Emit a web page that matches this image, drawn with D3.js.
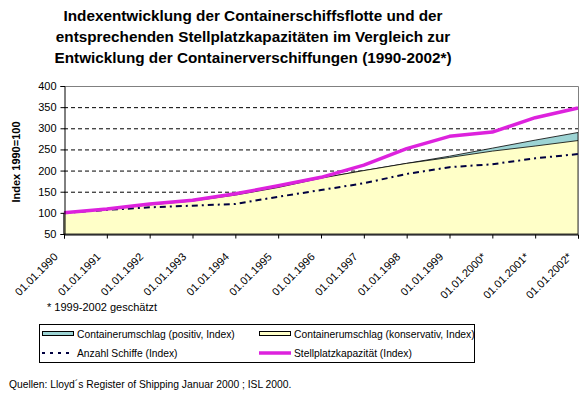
<!DOCTYPE html>
<html>
<head>
<meta charset="utf-8">
<script src="https://cdn.jsdelivr.net/npm/d3@7"></script>
<style>
  body { margin: 0; background: #fff; }
  svg { font-family: "Liberation Sans", Arial, sans-serif; }
</style>
</head>
<body>
<svg width="582" height="395"></svg>
<script>
// tick labels / categories
const dates = ["01.01.1990", "01.01.1991", "01.01.1992", "01.01.1993", "01.01.1994",
  "01.01.1995", "01.01.1996", "01.01.1997", "01.01.1998", "01.01.1999",
  "01.01.2000*", "01.01.2001*", "01.01.2002*"];

// series (index 1990 = 100)
const umschlagPositiv = [100, 108, 119, 128, 142, 160, 182, 200, 217, 234, 253, 272, 290];
const umschlagKonservativ = [100, 108, 119, 128, 142, 160, 182, 200, 217, 231, 246, 258, 271];
const anzahlSchiffe = [100, 107, 113, 117, 121, 138, 154, 170, 192, 208, 215, 229, 239];
const stellplatz = [100, 109, 121, 130, 145, 164, 184, 213, 252, 281, 291, 325, 348];

const yTicks = [50, 100, 150, 200, 250, 300, 350, 400];

const titleLines = [
  "Indexentwicklung der Containerschiffsflotte und der",
  "entsprechenden Stellplatzkapazitäten im Vergleich zur",
  "Entwicklung der Containerverschiffungen (1990-2002*)"
];

const svg = d3.select("svg"),
  plotLeft = 64, plotRight = 578, plotTop = 86, plotBottom = 234;

const x = d3.scalePoint().domain(dates).range([plotLeft, plotRight]);
const y = d3.scaleLinear().domain([50, 400]).range([plotBottom, plotTop]);

// title
svg.append("g")
  .selectAll("text")
  .data(titleLines)
  .enter()
  .append("text")
  .attr("x", 253)
  .attr("y", (d, i) => 21 + i * 21)
  .attr("text-anchor", "middle")
  .style("font-size", "15.3px")
  .style("font-weight", "bold")
  .text(d => d);

// grid
svg.append("g")
  .selectAll("line")
  .data(yTicks.filter(d => d > 50 && d < 400))
  .enter()
  .append("line")
  .attr("x1", plotLeft).attr("x2", plotRight)
  .attr("y1", d => y(d) + 0.5).attr("y2", d => y(d) + 0.5)
  .attr("stroke", "#000")
  .attr("stroke-dasharray", "4,3");

// areas: positive behind, conservative on top
const area = vals => d3.area()
  .x((d, i) => x(dates[i]))
  .y0(y(50))
  .y1(d => y(d))(vals);

svg.append("path")
  .attr("d", area(umschlagPositiv))
  .attr("fill", "#9dd4d4")
  .attr("stroke", "#000")
  .attr("stroke-width", 0.8);

svg.append("path")
  .attr("d", area(umschlagKonservativ))
  .attr("fill", "#ffffc8")
  .attr("stroke", "#000")
  .attr("stroke-width", 0.8);

const line = d3.line().x((d, i) => x(dates[i])).y(d => y(d));

svg.append("path")
  .attr("d", line(anzahlSchiffe))
  .attr("fill", "none")
  .attr("stroke", "#000040")
  .attr("stroke-width", 2)
  .attr("stroke-dasharray", "6,4,2,4");

svg.append("path")
  .attr("d", line(stellplatz))
  .attr("fill", "none")
  .attr("stroke", "#dd22dd")
  .attr("stroke-width", 3.5)
  .attr("stroke-linejoin", "round");

// plot border (top, right)
svg.append("path")
  .attr("d", `M${plotLeft},${plotTop + 0.5}H${plotRight + 0.5}V${plotBottom}`)
  .attr("fill", "none")
  .attr("stroke", "#808080");

// axes
const yAxis = svg.append("g")
  .attr("transform", `translate(${plotLeft + 0.5},0)`)
  .call(d3.axisLeft(y).tickValues(yTicks).tickSize(4).tickPadding(4));

const xAxis = svg.append("g")
  .attr("transform", `translate(0,${plotBottom + 0.5})`)
  .call(d3.axisBottom(x).tickSize(4));

[yAxis, xAxis].forEach(g => {
  g.select(".domain").attr("stroke", "#000");
  g.selectAll(".tick line").attr("stroke", "#000");
  g.selectAll("text").attr("fill", "#000").style("font-size", "11px")
    .style("font-family", "'Liberation Sans', Arial, sans-serif");
});

xAxis.selectAll(".tick text")
  .attr("text-anchor", "end")
  .attr("dy", null)
  .attr("y", 0)
  .attr("transform", "translate(-6,23) rotate(-45)");

// y title
svg.append("text")
  .attr("transform", "translate(20,162) rotate(-90)")
  .attr("text-anchor", "middle")
  .style("font-size", "11px")
  .style("font-weight", "bold")
  .text("Index 1990=100");

// footnote
svg.append("text")
  .attr("x", 47).attr("y", 311)
  .style("font-size", "11px")
  .text("* 1999-2002 geschätzt");

// legend
const legend = svg.append("g");
legend.append("rect")
  .attr("x", 39.5).attr("y", 324.5)
  .attr("width", 435).attr("height", 38)
  .attr("fill", "#fff").attr("stroke", "#000");

const legendItems = [
  { label: "Containerumschlag (positiv, Index)", kind: "area", fill: "#9dd4d4", lx: 42, ly: 334 },
  { label: "Containerumschlag (konservativ, Index)", kind: "area", fill: "#ffffc8", lx: 259, ly: 334 },
  { label: "Anzahl Schiffe (Index)", kind: "dash", lx: 42, ly: 353 },
  { label: "Stellplatzkapazität (Index)", kind: "line", lx: 259, ly: 353 }
];

legendItems.forEach(d => {
  if (d.kind === "area") {
    legend.append("rect")
      .attr("x", d.lx + 0.5).attr("y", d.ly - 2.5)
      .attr("width", 31).attr("height", 4)
      .attr("fill", d.fill).attr("stroke", "#000");
  } else if (d.kind === "dash") {
    legend.append("line")
      .attr("x1", d.lx).attr("x2", d.lx + 32)
      .attr("y1", d.ly).attr("y2", d.ly)
      .attr("stroke", "#000040").attr("stroke-width", 2)
      .attr("stroke-dasharray", "3,5");
  } else {
    legend.append("line")
      .attr("x1", d.lx).attr("x2", d.lx + 32)
      .attr("y1", d.ly).attr("y2", d.ly)
      .attr("stroke", "#dd22dd").attr("stroke-width", 3.5);
  }
  legend.append("text")
    .attr("x", d.lx + 35).attr("y", d.ly + 4)
    .style("font-size", "10.3px")
    .text(d.label);
});

// source
svg.append("text")
  .attr("x", 9).attr("y", 388)
  .style("font-size", "10.3px")
  .text("Quellen: Lloyd´s Register of Shipping Januar 2000 ; ISL 2000.");
</script>
</body>
</html>
